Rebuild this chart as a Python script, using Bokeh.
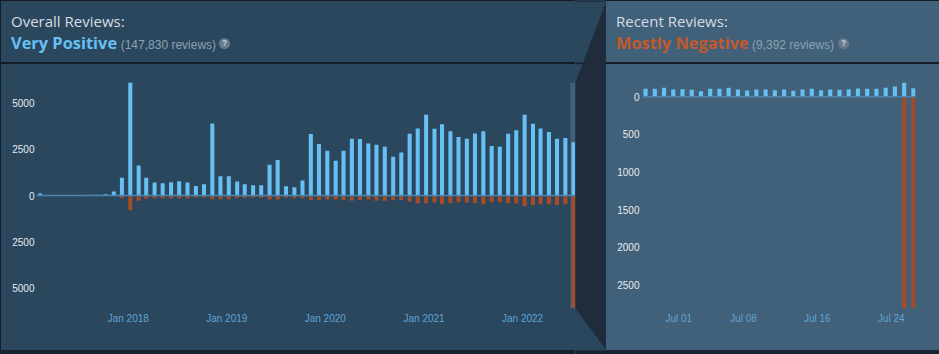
from datetime import datetime, timezone

from bokeh.embed import file_html
from bokeh.layouts import column, row
from bokeh.models import (BoxAnnotation, CustomJSTickFormatter, DatetimeTickFormatter, Div,
                          FixedTicker, Range1d, Span)
from bokeh.plotting import figure
from bokeh.resources import INLINE

DAY = 86400000.0


def ms(y, m, d=1):
    return datetime(y, m, d, tzinfo=timezone.utc).timestamp() * 1000.0


# ---------------- data: overall reviews per month ----------------
overall_months = [
    "2017-02", "2017-03", "2017-04", "2017-05", "2017-06", "2017-07", "2017-08", "2017-09", "2017-10", "2017-11", "2017-12",
    "2018-01", "2018-02", "2018-03", "2018-04", "2018-05", "2018-06", "2018-07", "2018-08", "2018-09", "2018-10", "2018-11", "2018-12",
    "2019-01", "2019-02", "2019-03", "2019-04", "2019-05", "2019-06", "2019-07", "2019-08", "2019-09", "2019-10", "2019-11", "2019-12",
    "2020-01", "2020-02", "2020-03", "2020-04", "2020-05", "2020-06", "2020-07", "2020-08", "2020-09", "2020-10", "2020-11", "2020-12",
    "2021-01", "2021-02", "2021-03", "2021-04", "2021-05", "2021-06", "2021-07", "2021-08", "2021-09", "2021-10", "2021-11", "2021-12",
    "2022-01", "2022-02", "2022-03", "2022-04", "2022-05", "2022-06", "2022-07",
]
overall_up = [
    110, 0, 0, 5, 10, 30, 35, 40, 70, 215, 960,
    6114, 1620, 960, 700, 665, 720, 770, 700, 520, 610, 3900, 1040,
    1040, 755, 610, 556, 556, 1670, 1920, 500, 448, 808, 3325, 2785,
    2425, 1885, 2425, 3075, 3060, 2820, 2750, 2640, 2100, 2320, 3345, 3630,
    4370, 3615, 3850, 3470, 3165, 3075, 3360, 3470, 2680, 2640, 3345, 3525,
    4370, 3885, 3630, 3435, 3075, 3110, 2875,
]
overall_down = [
    0, 0, 0, 0, 2, 5, 5, 8, 10, 25, 130,
    793, 290, 180, 150, 150, 150, 150, 150, 110, 110, 200, 200,
    200, 130, 130, 110, 130, 215, 215, 110, 130, 150, 250, 250,
    215, 215, 250, 290, 250, 215, 290, 290, 250, 250, 325, 415,
    415, 378, 470, 415, 360, 395, 415, 470, 360, 360, 415, 430,
    577, 520, 470, 470, 520, 470, 6080,
]
overall_ticks = ["2018-01-01", "2019-01-01", "2020-01-01", "2021-01-01", "2022-01-01"]
overall_yticks = [-5000, -2500, 0, 2500, 5000]

# ---------------- data: recent reviews per day ----------------
recent_days = [
    "2022-06-27", "2022-06-28", "2022-06-29", "2022-06-30", "2022-07-01", "2022-07-02", "2022-07-03",
    "2022-07-04", "2022-07-05", "2022-07-06", "2022-07-07", "2022-07-08", "2022-07-09", "2022-07-10",
    "2022-07-11", "2022-07-12", "2022-07-13", "2022-07-14", "2022-07-15", "2022-07-16", "2022-07-17",
    "2022-07-18", "2022-07-19", "2022-07-20", "2022-07-21", "2022-07-22", "2022-07-23", "2022-07-24",
    "2022-07-25", "2022-07-26",
]
recent_up = [
    106, 106, 120, 97, 100, 93, 75, 106, 106, 120, 97, 84, 97, 97, 88,
    97, 80, 97, 106, 88, 97, 93, 100, 110, 106, 106, 120, 137, 190, 115,
]
recent_down = [
    8, 10, 12, 10, 14, 8, 10, 12, 10, 12, 14, 10, 8, 12, 10,
    12, 10, 8, 12, 16, 12, 10, 8, 10, 12, 14, 16, 10, 2816, 2805,
]
recent_ticks = ["2022-07-01", "2022-07-08", "2022-07-16", "2022-07-24"]
recent_yticks = [-2500, -2000, -1500, -1000, -500, 0]

# ---------------- styling ----------------
BG_LEFT = "#2a475e"
BG_RIGHT = "#416079"
DARK = "#202c3c"
EDGE = "#141d27"
PAGE = "#1a2330"
UP = "#66c0f4"
DOWN = "#a34c25"
NEG_WORD = "#c4592b"
ZERO = "#4a86b2"
HEAD = "#d6dde2"
SUB = "#8da2b0"
TICK_Y = "#e6ecf0"
TICK_X = "#5fa5d6"
HEAD_FONT = "'Open Sans'"
AXIS_FONT = "Liberation Sans"

HEAD_H = 82          # header strip height
CHART_H = 268        # chart strip height (frame 226 + axis 42)
FRAME_H = 226
EDGE_W = 1           # dark rim on the far left of the page
LEFT_W, WEDGE_W, RIGHT_W = 574, 31, 333


def parse_day(s):
    y, m, d = (int(v) for v in s.split("-"))
    return ms(y, m, d)


def parse_month(s):
    y, m = (int(v) for v in s.split("-"))
    return ms(y, m, 1)


def header(width, bg, title, verdict, verdict_color, count, count_x, icon_x, x0=10):
    def abs_box(left, top, css, content=""):
        return (f'<div style="position:absolute;left:{left}px;top:{top}px;'
                f'white-space:nowrap;{css}">{content}</div>')

    html = (
        f'<div style="position:relative;width:{width}px;height:{HEAD_H}px;'
        f'background:{bg};overflow:hidden;margin:0;padding:0">'
        + abs_box(0, 0, f"width:{width}px;height:1px;background:{EDGE}")
        + abs_box(x0, 14.2, f"font-family:{HEAD_FONT};font-size:15px;line-height:15px;color:{HEAD}", title)
        + abs_box(x0, 35.4, f"font-family:{HEAD_FONT};font-size:16.4px;line-height:16.4px;"
                  f"font-weight:bold;color:{verdict_color}", verdict)
        + abs_box(count_x, 39.3, f"font-family:'{AXIS_FONT}';font-size:12px;line-height:12px;"
                  f"color:{SUB}", count)
        + abs_box(icon_x - 5.25, 38.25, "width:10.5px;height:10.5px;border-radius:50%;"
                  f"background:#67798a;text-align:center;font-family:'{AXIS_FONT}';"
                  "font-size:8.5px;line-height:10.5px;font-weight:bold;color:#c6d4df", "?")
        + abs_box(0, 62.3, f"width:{width}px;height:1.5px;background:{EDGE}")
        + "</div>"
    )
    return Div(text=html, width=width, height=HEAD_H, margin=0,
               styles={"background-color": bg})


def chart(width, x_range, y_range, bg, border_left, border_right):
    p = figure(width=width, height=CHART_H, x_axis_type="datetime", x_range=x_range,
               y_range=y_range, title=None, toolbar_location=None, output_backend="svg",
               min_border_left=border_left, min_border_right=border_right,
               min_border_top=0, min_border_bottom=CHART_H - FRAME_H,
               background_fill_color=None, border_fill_color=bg, outline_line_color=None,
               styles={"background-color": bg}, margin=0)
    return p


def style_axes(p, ticks_x, ticks_y, fmt_x, y_standoff):
    p.xaxis.ticker = FixedTicker(ticks=ticks_x)
    p.xaxis.formatter = DatetimeTickFormatter(days=fmt_x, months=fmt_x, years=fmt_x,
                                              hours=fmt_x, hourmin=fmt_x)
    p.yaxis.ticker = FixedTicker(ticks=ticks_y)
    p.yaxis.formatter = CustomJSTickFormatter(code="return Math.abs(tick).toString()")
    for ax in (p.xaxis[0], p.yaxis[0]):
        ax.axis_line_color = None
        ax.major_tick_line_color = None
        ax.minor_tick_line_color = None
        ax.major_tick_out = 0
        ax.major_tick_in = 0
        ax.minor_tick_out = 0
        ax.major_label_text_font = AXIS_FONT
        ax.major_label_text_font_size = "10px"
    p.xaxis.major_label_text_color = TICK_X
    p.xaxis.major_label_standoff = 4
    p.yaxis.major_label_text_color = TICK_Y
    p.yaxis.major_label_standoff = y_standoff
    p.xgrid.grid_line_color = None
    p.ygrid.grid_line_color = None


# ---------------- overall (left) panel ----------------
left_x = [parse_month(m) + 7.5 * DAY for m in overall_months]
lmax = max(max(overall_up), max(overall_down))
left = chart(LEFT_W, Range1d(ms(2017, 1, 26), ms(2022, 7, 16)), Range1d(-lmax, lmax),
             BG_LEFT, 36 - EDGE_W, 0)
style_axes(left, [parse_day(t) for t in overall_ticks], overall_yticks, "%b %Y", 2)

# highlighted window of the recent period
left.add_layout(BoxAnnotation(left=parse_day(recent_days[0]), fill_color=BG_RIGHT, fill_alpha=1,
                              line_color=None, level="underlay"))
left.vbar(x=left_x, width=15 * DAY, top=overall_up, bottom=0, fill_color=UP, line_color=None)
left.vbar(x=left_x, width=15 * DAY, top=0, bottom=[-v for v in overall_down],
          fill_color=DOWN, line_color=None)
left.add_layout(Span(location=0, dimension="width", line_color=ZERO, line_width=1.5))

left_head = header(LEFT_W, BG_LEFT, "Overall Reviews:", "Very Positive", UP,
                   "(147,830 reviews)", 119.7, 223.5)

# ---------------- connector wedge between the panels ----------------
TOTAL_H = HEAD_H + CHART_H + 4
wedge = figure(width=WEDGE_W, height=TOTAL_H, x_range=Range1d(0, WEDGE_W),
               y_range=Range1d(TOTAL_H, 0), title=None, toolbar_location=None,
               output_backend="svg", min_border=0, background_fill_color=BG_LEFT,
               border_fill_color=BG_LEFT, outline_line_color=None, margin=0,
               styles={"background-color": BG_LEFT})
wedge.axis.visible = False
wedge.grid.visible = False
wedge.quad(left=0, right=WEDGE_W, top=62.3, bottom=63.8, fill_color=EDGE, line_color=None)
wedge.quad(left=0, right=WEDGE_W, top=0, bottom=1, fill_color=EDGE, line_color=None)
wedge.patch(x=[0, WEDGE_W, WEDGE_W, 0], y=[HEAD_H, 0, HEAD_H + CHART_H, HEAD_H + FRAME_H],
            fill_color=DARK, line_color=None)
wedge.quad(left=0, right=WEDGE_W, top=HEAD_H + CHART_H, bottom=TOTAL_H,
           fill_color=PAGE, line_color=None)

# ---------------- recent (right) panel ----------------
right_x = [parse_day(d) + 0.4 * DAY for d in recent_days]
right = chart(RIGHT_W,
              Range1d(parse_day(recent_days[0]) + 0.07 * DAY, parse_day(recent_days[-1]) + 0.63 * DAY),
              Range1d(-max(recent_down), max(recent_up)), BG_RIGHT, 36, 24)
style_axes(right, [parse_day(t) for t in recent_ticks], recent_yticks, "%b %d", 3)
right.vbar(x=right_x, width=0.45 * DAY, top=recent_up, bottom=0, fill_color=UP, line_color=None)
right.vbar(x=right_x, width=0.45 * DAY, top=0, bottom=[-v for v in recent_down],
           fill_color=DOWN, line_color=None)
right.add_layout(Span(location=0, dimension="width", line_color=ZERO, line_width=1.5))

right_head = header(RIGHT_W, BG_RIGHT, "Recent Reviews:", "Mostly Negative", NEG_WORD,
                    "(9,392 reviews)", 146, 237.5)

rim = Div(text="", width=EDGE_W, height=HEAD_H + CHART_H, margin=0,
          styles={"background-color": EDGE})

layout = row(rim, column(left_head, left, spacing=0), wedge,
             column(right_head, right, spacing=0),
             spacing=0, styles={"background-color": PAGE})
open("out.html", "w").write(file_html(layout, INLINE))
